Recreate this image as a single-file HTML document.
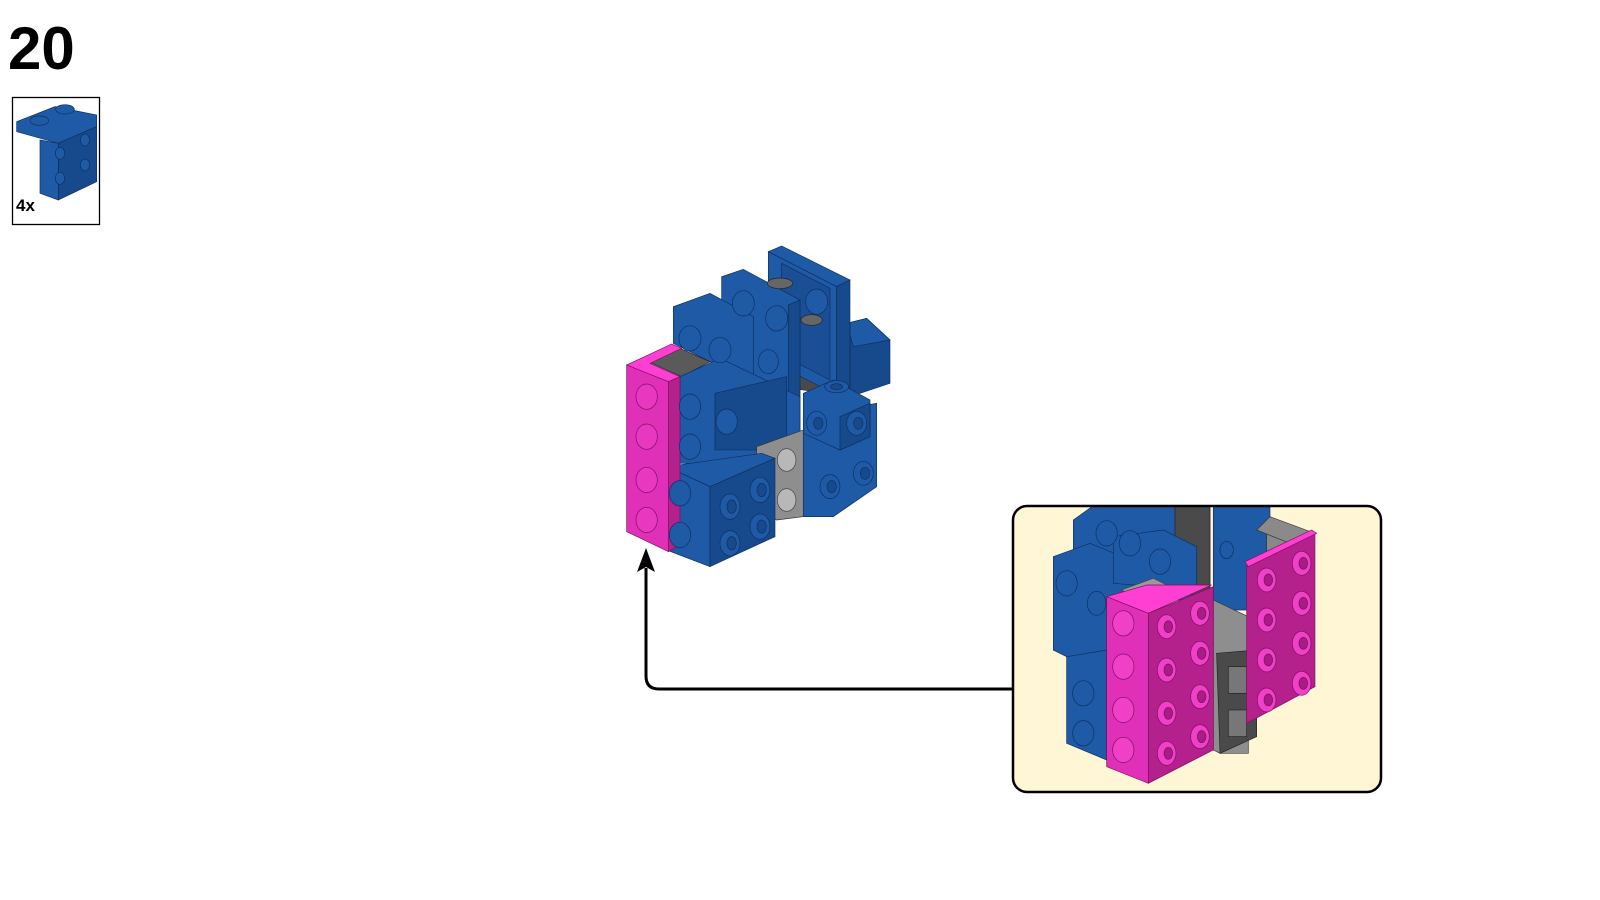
<!DOCTYPE html>
<html><head><meta charset="utf-8"><style>
html,body{margin:0;padding:0;background:#fff;width:1600px;height:900px;overflow:hidden}
svg{position:absolute;left:0;top:0}
</style></head><body>
<svg width="1600" height="900" viewBox="0 0 1600 900" xmlns="http://www.w3.org/2000/svg" font-family="Liberation Sans, sans-serif">
<defs>
<clipPath id="cb"><rect x="1013" y="506" width="368" height="286" rx="14"/></clipPath>
</defs>
<text x="8" y="69" font-size="60" font-weight="bold" fill="#000">20</text>
<rect x="12.5" y="97.5" width="87" height="127" fill="#fff" stroke="#000" stroke-width="1.3"/>
<g transform="scale(0.3333)" stroke="#0d2f5e" stroke-width="2">
  <polygon points="50,365 165,320 290,345 290,380 175,430 50,395" fill="#1f5aa6"/>
  <polygon points="175,430 290,380 290,545 175,600 175,560" fill="#174a8c"/>
  <polygon points="120,420 175,430 175,600 120,580" fill="#1f5aa6"/>
  <ellipse cx="118" cy="362" rx="28" ry="14" fill="#1f5aa6"/>
  <ellipse cx="195" cy="328" rx="28" ry="14" fill="#1f5aa6"/>
  <ellipse cx="180" cy="460" rx="14" ry="18" fill="#1f5aa6"/><ellipse cx="255" cy="420" rx="14" ry="18" fill="#1f5aa6"/>
  <ellipse cx="180" cy="535" rx="14" ry="18" fill="#1f5aa6"/><ellipse cx="255" cy="495" rx="14" ry="18" fill="#1f5aa6"/>
</g>
<text x="16" y="211" font-size="17" font-weight="bold" fill="#000">4x</text>

<!-- main model -->
<g transform="translate(600,230) scale(0.3333)" stroke="#0d2f5e" stroke-width="2">
  <polygon points="740,280 800,265 870,330 870,460 750,500" fill="#174a8c"/>
  <polygon points="740,280 800,265 870,330 760,350" fill="#1f5aa6"/>
  <polygon points="470,150 750,280 750,500 470,460" fill="#4a4a4a" stroke="#222"/>
  <polygon points="505,65 545,48 750,150 710,170" fill="#1f5aa6"/>
  <polygon points="505,65 710,170 710,495 505,390" fill="#1f5aa6"/>
  <polygon points="545,100 690,175 690,450 545,375" fill="#1a4f95"/>
  <polygon points="710,170 750,150 750,490 710,495" fill="#174a8c"/>
  <polygon points="365,140 430,118 600,210 600,640 565,660 365,560" fill="#1f5aa6"/>
  <polygon points="565,225 600,210 600,640 565,660" fill="#174a8c"/>
  <polygon points="220,230 330,190 460,260 460,460 220,340" fill="#1f5aa6"/>
  <polygon points="145,395 240,355 330,395 245,440" fill="#5a5a5a" stroke="#222"/>
  <polygon points="240,440 360,385 600,500 600,700 240,700" fill="#1f5aa6"/>
  <polygon points="345,490 560,440 560,660 345,660" fill="#174a8c"/>
  <polygon points="470,650 610,600 610,860 530,870 470,840" fill="#8e8e8e" stroke="#333"/>
  <polygon points="610,560 830,520 830,770 700,860 610,860" fill="#1f5aa6"/>
  <polygon points="610,490 700,450 810,510 810,620 720,660 610,610" fill="#1f5aa6"/>
  <polygon points="720,560 810,520 810,620 720,660" fill="#174a8c"/>
  <polygon points="200,710 485,670 525,685 330,770" fill="#1f5aa6"/>
  <polygon points="200,710 330,770 330,1010 200,960" fill="#1f5aa6"/>
  <polygon points="330,770 525,685 525,920 330,1010" fill="#174a8c"/>
  <polygon points="80,405 215,342 245,355 150,400 240,440 205,455" fill="#ff3fd2" stroke="#7a1060"/>
  <polygon points="80,405 205,455 205,965 80,905" fill="#e030b8" stroke="#7a1060"/>
  <polygon points="205,455 240,440 240,945 205,965" fill="#b4208c" stroke="#7a1060"/>
  <g fill="#e838c0" stroke="#7a1060">
    <ellipse cx="140" cy="500" rx="32" ry="38"/><ellipse cx="140" cy="620" rx="32" ry="38"/>
    <ellipse cx="140" cy="750" rx="32" ry="38"/><ellipse cx="140" cy="870" rx="32" ry="38"/>
  </g>
  <g fill="#1f5aa6">
    <ellipse cx="270" cy="325" rx="33" ry="38"/><ellipse cx="360" cy="360" rx="33" ry="38"/>
    <ellipse cx="430" cy="220" rx="33" ry="38"/><ellipse cx="530" cy="265" rx="33" ry="38"/>
    <ellipse cx="505" cy="395" rx="30" ry="36"/><ellipse cx="650" cy="215" rx="33" ry="38"/>
    <ellipse cx="270" cy="530" rx="32" ry="38"/><ellipse cx="270" cy="650" rx="32" ry="38"/>
    <ellipse cx="380" cy="575" rx="32" ry="38"/>
    <ellipse cx="240" cy="790" rx="32" ry="38"/><ellipse cx="240" cy="915" rx="32" ry="38"/>
    <ellipse cx="390" cy="830" rx="30" ry="38"/><ellipse cx="480" cy="780" rx="30" ry="38"/>
    <ellipse cx="390" cy="940" rx="30" ry="38"/><ellipse cx="480" cy="890" rx="30" ry="38"/>
    <ellipse cx="650" cy="580" rx="30" ry="36"/><ellipse cx="770" cy="580" rx="30" ry="36"/>
    <ellipse cx="690" cy="770" rx="30" ry="36"/><ellipse cx="790" cy="730" rx="30" ry="36"/>
    <ellipse cx="710" cy="470" rx="36" ry="18"/>
  </g>
  <g fill="#174a8c">
    <ellipse cx="395" cy="830" rx="14" ry="20"/><ellipse cx="485" cy="780" rx="14" ry="20"/>
    <ellipse cx="395" cy="940" rx="14" ry="20"/><ellipse cx="485" cy="890" rx="14" ry="20"/>
    <ellipse cx="655" cy="580" rx="14" ry="18"/><ellipse cx="775" cy="580" rx="14" ry="18"/>
    <ellipse cx="695" cy="770" rx="14" ry="18"/><ellipse cx="795" cy="730" rx="14" ry="18"/>
    <ellipse cx="710" cy="470" rx="18" ry="9"/>
  </g>
  <g fill="#b8b8b8" stroke="#444"><ellipse cx="560" cy="690" rx="28" ry="34"/><ellipse cx="560" cy="810" rx="28" ry="34"/></g>
  <g fill="#666" stroke="#222"><ellipse cx="540" cy="160" rx="38" ry="16"/><ellipse cx="635" cy="270" rx="32" ry="16"/></g>
</g>

<!-- callout -->
<rect x="1013" y="506" width="368" height="286" rx="14" fill="#fff6d6"/>
<g clip-path="url(#cb)">
<g transform="translate(990,490) scale(0.3333)" stroke="#0d2f5e" stroke-width="2">
  <polygon points="250,90 320,40 660,40 660,330 250,330" fill="#1f5aa6"/>
  <polygon points="555,40 660,40 660,330 555,300" fill="#4a4a4a" stroke="#222"/>
  <polygon points="670,40 840,40 840,360 670,360" fill="#1f5aa6"/>
  <polygon points="830,100 930,130 930,400 830,400" fill="#888" stroke="#333"/>
  <polygon points="190,200 300,160 520,250 520,500 230,500 190,480" fill="#1f5aa6"/>
  <polygon points="370,140 520,120 620,170 620,300 370,280" fill="#1f5aa6"/>
  <polygon points="230,500 350,480 350,810 230,760" fill="#1f5aa6"/>
  <polygon points="395,300 490,265 560,300 480,340" fill="#9a9a9a" stroke="#444"/>
  <polygon points="670,330 775,380 775,790 690,790 670,780" fill="#8e8e8e" stroke="#333"/>
  <polygon points="680,490 800,480 800,740 690,790" fill="#4a4a4a" stroke="#222"/>
  <rect x="715" y="530" width="55" height="80" fill="#777" stroke="#222"/>
  <rect x="715" y="660" width="55" height="80" fill="#777" stroke="#222"/>
  <polygon points="840,80 975,130 900,160 800,120" fill="#8a8a8a" stroke="#333"/>
  <polygon points="770,230 975,130 975,590 770,700" fill="#b4208c" stroke="#7a1060"/>
  <polygon points="765,215 965,120 980,130 775,230" fill="#ff3fd2" stroke="#7a1060"/>
  <polygon points="350,320 470,285 665,285 475,370" fill="#ff3fd2" stroke="#7a1060"/>
  <polygon points="350,320 475,370 475,880 350,830" fill="#e030b8" stroke="#7a1060"/>
  <polygon points="475,370 670,290 670,780 475,880" fill="#b4208c" stroke="#7a1060"/>
  <g fill="#1f5aa6">
    <ellipse cx="230" cy="280" rx="32" ry="38"/><ellipse cx="350" cy="130" rx="32" ry="38"/>
    <ellipse cx="510" cy="215" rx="32" ry="38"/><ellipse cx="420" cy="160" rx="32" ry="38"/>
    <ellipse cx="280" cy="610" rx="32" ry="38"/><ellipse cx="280" cy="730" rx="32" ry="38"/>
    <ellipse cx="320" cy="340" rx="28" ry="36"/><ellipse cx="710" cy="180" rx="20" ry="26"/>
  </g>
  <g fill="#f040c8" stroke="#7a1060">
    <ellipse cx="400" cy="400" rx="32" ry="38"/><ellipse cx="400" cy="530" rx="32" ry="38"/>
    <ellipse cx="400" cy="660" rx="32" ry="38"/><ellipse cx="400" cy="780" rx="32" ry="38"/>
    <ellipse cx="530" cy="410" rx="28" ry="36"/><ellipse cx="630" cy="370" rx="28" ry="36"/>
    <ellipse cx="530" cy="540" rx="28" ry="36"/><ellipse cx="630" cy="490" rx="28" ry="36"/>
    <ellipse cx="530" cy="670" rx="28" ry="36"/><ellipse cx="630" cy="620" rx="28" ry="36"/>
    <ellipse cx="530" cy="790" rx="28" ry="36"/><ellipse cx="630" cy="740" rx="28" ry="36"/>
    <ellipse cx="830" cy="270" rx="28" ry="36"/><ellipse cx="935" cy="220" rx="28" ry="36"/>
    <ellipse cx="830" cy="390" rx="28" ry="36"/><ellipse cx="935" cy="340" rx="28" ry="36"/>
    <ellipse cx="830" cy="510" rx="28" ry="36"/><ellipse cx="935" cy="460" rx="28" ry="36"/>
    <ellipse cx="830" cy="630" rx="28" ry="36"/><ellipse cx="935" cy="580" rx="28" ry="36"/>
  </g>
  <g fill="#a81c84" stroke="#7a1060">
    <ellipse cx="535" cy="410" rx="13" ry="18"/><ellipse cx="635" cy="370" rx="13" ry="18"/>
    <ellipse cx="535" cy="540" rx="13" ry="18"/><ellipse cx="635" cy="490" rx="13" ry="18"/>
    <ellipse cx="535" cy="670" rx="13" ry="18"/><ellipse cx="635" cy="620" rx="13" ry="18"/>
    <ellipse cx="535" cy="790" rx="13" ry="18"/><ellipse cx="635" cy="740" rx="13" ry="18"/>
    <ellipse cx="835" cy="270" rx="13" ry="18"/><ellipse cx="940" cy="220" rx="13" ry="18"/>
    <ellipse cx="835" cy="390" rx="13" ry="18"/><ellipse cx="940" cy="340" rx="13" ry="18"/>
    <ellipse cx="835" cy="510" rx="13" ry="18"/><ellipse cx="940" cy="460" rx="13" ry="18"/>
    <ellipse cx="835" cy="630" rx="13" ry="18"/><ellipse cx="940" cy="580" rx="13" ry="18"/>
  </g>
</g>
</g>
<rect x="1013" y="506" width="368" height="286" rx="14" fill="none" stroke="#000" stroke-width="2.5"/>

<!-- arrow -->
<path d="M1013,689 H659 Q646,689 646,676 V568" fill="none" stroke="#000" stroke-width="3"/>
<polygon points="646,548 637,572 646,567 655,572" fill="#000"/>
</svg>
</body></html>
